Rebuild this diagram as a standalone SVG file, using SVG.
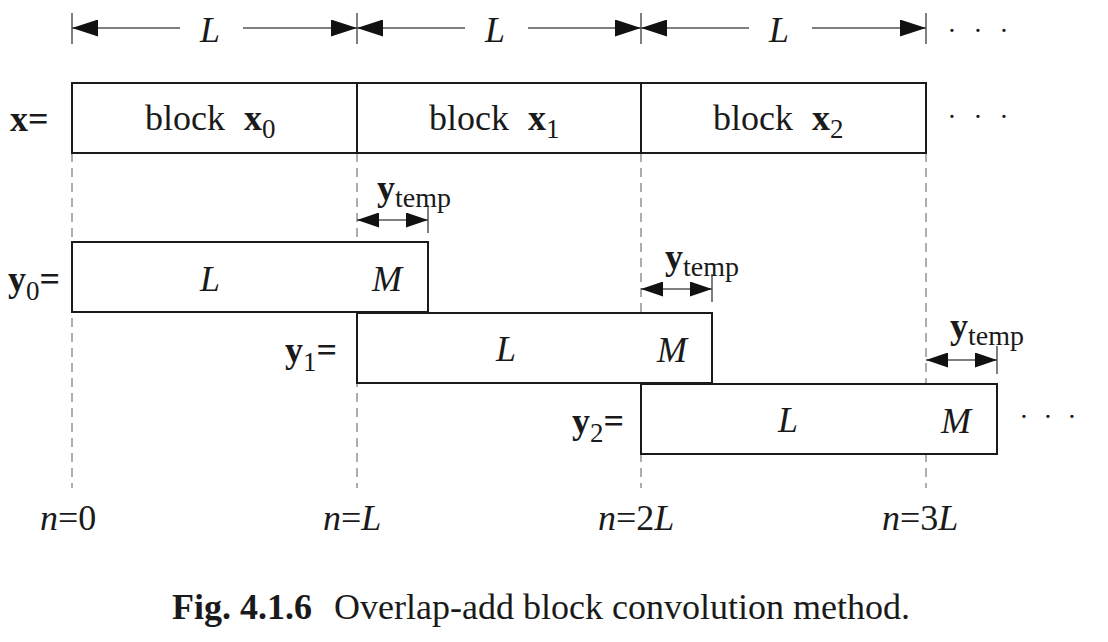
<svg xmlns="http://www.w3.org/2000/svg" width="1108" height="642" viewBox="0 0 1108 642">
<defs>
<marker id="ah" viewBox="0 0 10 10" refX="10" refY="5" markerWidth="26" markerHeight="17" markerUnits="userSpaceOnUse" orient="auto-start-reverse" preserveAspectRatio="none"><path d="M0,0 L10,5 L0,10 z" fill="#111"/></marker>
<marker id="ahs" viewBox="0 0 10 10" refX="10" refY="5" markerWidth="22" markerHeight="15" markerUnits="userSpaceOnUse" orient="auto-start-reverse" preserveAspectRatio="none"><path d="M0,0 L10,5 L0,10 z" fill="#111"/></marker>
</defs>
<style>
text{font-family:"Liberation Serif","Times New Roman",serif;fill:#1a1a1a}
.t{font-size:36px}
.i{font-style:italic}
.b{font-weight:bold}
.box{fill:#fff;stroke:#1a1a1a;stroke-width:2}
.dash{stroke:#777;stroke-width:1.2;stroke-dasharray:9,6;fill:none}
.tick{stroke:#555;stroke-width:1.5}
.dim{stroke:#555;stroke-width:1.5;fill:none}
.dots{font-size:28px;text-anchor:middle}
</style>
<rect width="1108" height="642" fill="#fff"/>
<g id="connectors">
<line class="dash" x1="72" y1="153" x2="72" y2="488"/>
<line class="dash" x1="357" y1="153" x2="357" y2="488"/>
<line class="dash" x1="641" y1="153" x2="641" y2="488"/>
<line class="dash" x1="926" y1="153" x2="926" y2="488"/>
<line class="tick" x1="72" y1="13" x2="72" y2="44"/>
<line class="tick" x1="357" y1="13" x2="357" y2="44"/>
<line class="tick" x1="641" y1="13" x2="641" y2="44"/>
<line class="tick" x1="926" y1="13" x2="926" y2="44"/>
<line class="dim" x1="180" y1="28" x2="72" y2="28" marker-end="url(#ah)"/>
<line class="dim" x1="243" y1="28" x2="357" y2="28" marker-end="url(#ah)"/>
<line class="dim" x1="465" y1="28" x2="357" y2="28" marker-end="url(#ah)"/>
<line class="dim" x1="528" y1="28" x2="641" y2="28" marker-end="url(#ah)"/>
<line class="dim" x1="749" y1="28" x2="641" y2="28" marker-end="url(#ah)"/>
<line class="dim" x1="812" y1="28" x2="926" y2="28" marker-end="url(#ah)"/>
<line class="tick" x1="428" y1="205" x2="428" y2="233"/>
<line class="dim" x1="357" y1="220" x2="428" y2="220" marker-start="url(#ahs)" marker-end="url(#ahs)"/>
<line class="tick" x1="712" y1="274" x2="712" y2="302"/>
<line class="dim" x1="641" y1="289" x2="712" y2="289" marker-start="url(#ahs)" marker-end="url(#ahs)"/>
<line class="tick" x1="997" y1="346" x2="997" y2="374"/>
<line class="dim" x1="926" y1="360" x2="997" y2="360" marker-start="url(#ahs)" marker-end="url(#ahs)"/>
</g>
<g id="dimlabels">
<text class="t i" x="210" y="42" text-anchor="middle">L</text>
<text class="t i" x="495" y="42" text-anchor="middle">L</text>
<text class="t i" x="779" y="42" text-anchor="middle">L</text>
<text class="dots" x="952 978 1004" y="40">···</text>
</g>
<g id="x">
<text class="t b" x="10" y="131">x=</text>
<rect class="box" x="72" y="83" width="285" height="70"/>
<rect class="box" x="357" y="83" width="284" height="70"/>
<rect class="box" x="641" y="83" width="285" height="70"/>
<text class="t" x="145" y="130">block <tspan class="b" dx="10">x</tspan><tspan font-size="27" dy="8">0</tspan></text>
<text class="t" x="429" y="130">block <tspan class="b" dx="10">x</tspan><tspan font-size="27" dy="8">1</tspan></text>
<text class="t" x="713" y="130">block <tspan class="b" dx="10">x</tspan><tspan font-size="27" dy="8">2</tspan></text>
<text class="dots" x="952 978 1004" y="126">···</text>
</g>
<g id="y0">
<text class="t b" x="8" y="291">y<tspan font-size="27" font-weight="normal" dy="9">0</tspan><tspan dy="-9">=</tspan></text>
<rect class="box" x="72" y="242" width="356" height="70"/>
<text class="t i" x="210" y="291" text-anchor="middle">L</text>
<text class="t i" x="387" y="291" text-anchor="middle">M</text>
<text class="t b" x="377" y="200">y<tspan font-size="28" font-weight="normal" dy="7">temp</tspan></text>
</g>
<g id="y1">
<text class="t b" x="285" y="362">y<tspan font-size="27" font-weight="normal" dy="9">1</tspan><tspan dy="-9">=</tspan></text>
<rect class="box" x="357" y="313" width="355" height="70"/>
<text class="t i" x="506" y="361" text-anchor="middle">L</text>
<text class="t i" x="672" y="362" text-anchor="middle">M</text>
<text class="t b" x="665" y="269">y<tspan font-size="28" font-weight="normal" dy="7">temp</tspan></text>
</g>
<g id="y2">
<text class="t b" x="572" y="433">y<tspan font-size="27" font-weight="normal" dy="9">2</tspan><tspan dy="-9">=</tspan></text>
<rect class="box" x="641" y="384" width="356" height="70"/>
<text class="t i" x="788" y="432" text-anchor="middle">L</text>
<text class="t i" x="956" y="433" text-anchor="middle">M</text>
<text class="t b" x="950" y="338">y<tspan font-size="28" font-weight="normal" dy="7">temp</tspan></text>
<text class="dots" x="1024 1048 1072" y="426">···</text>
</g>
<g id="nlabels">
<text class="t" x="40" y="530"><tspan class="i">n</tspan>=0</text>
<text class="t" x="323" y="530"><tspan class="i">n</tspan>=<tspan class="i">L</tspan></text>
<text class="t" x="598" y="530"><tspan class="i">n</tspan>=2<tspan class="i">L</tspan></text>
<text class="t" x="882" y="530"><tspan class="i">n</tspan>=3<tspan class="i">L</tspan></text>
</g>
<g id="caption">
<text x="541" y="619" font-size="36" text-anchor="middle"><tspan class="b">Fig. 4.1.6</tspan><tspan dx="22">Overlap-add block convolution method.</tspan></text>
</g>
</svg>
